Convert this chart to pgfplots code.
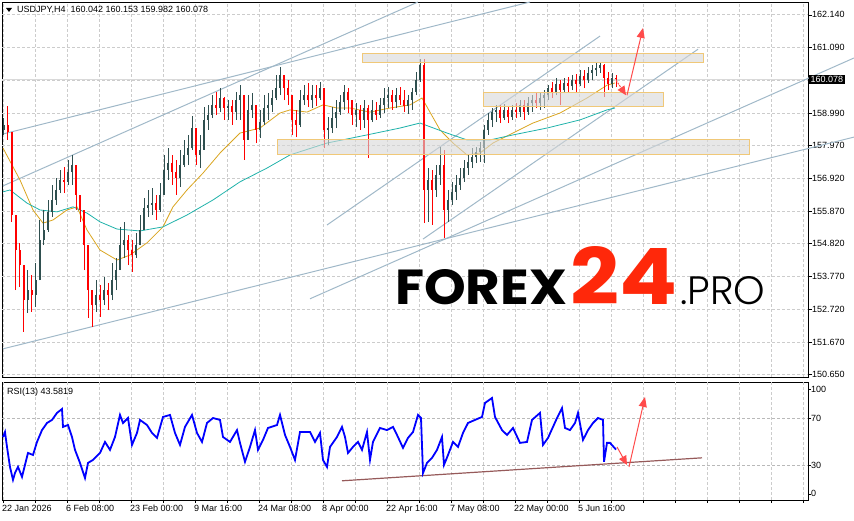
\documentclass[border=0pt]{standalone}
\usepackage{pgfplots}
\pgfplotsset{compat=1.18}
\usepackage{pgfplotstable}
\usepackage{graphicx}
\usepackage{fontspec}
\setmainfont{Liberation Sans}
\newfontfamily\wmfont{Poppins}
\IfFontExistsTF{Poppins Light}{\newfontfamily\wmlight{Poppins Light}}{\let\wmlight\wmfont}
\usetikzlibrary{arrows.meta}

\definecolor{bull}{RGB}{47,79,79}
\definecolor{bear}{RGB}{255,0,0}
\definecolor{maor}{RGB}{218,165,32}
\definecolor{mateal}{RGB}{32,178,170}
\definecolor{chan}{RGB}{160,184,200}
\definecolor{zonefill}{RGB}{215,215,215}
\definecolor{zoneedge}{RGB}{240,200,120}
\definecolor{arrowred}{RGB}{255,75,75}
\definecolor{rsiblue}{RGB}{0,0,255}
\definecolor{rsitrend}{RGB}{150,90,90}
\definecolor{brand}{RGB}{255,40,10}

\pgfplotsset{
  every tick label/.append style={font=\fontsize{9}{10}\selectfont},
}

% rising H4 candles: x (bar position), high, low, open, close
\pgfplotstableread{
x h l o c
4 158.84 158.30 158.46 158.62
28 153.98 152.61 153.02 153.34
36 154.21 152.80 153.18 153.66
40 155.58 153.66 153.66 154.94
44 155.90 154.78 154.94 155.26
48 156.22 155.20 155.26 155.84
52 156.70 155.68 155.84 156.22
56 156.92 156.06 156.22 156.54
60 157.18 156.44 156.54 156.86
68 157.50 156.70 156.80 157.11
72 157.66 156.70 157.11 157.34
96 153.66 152.64 152.86 153.18
104 153.76 152.86 153.02 153.34
112 154.21 153.02 153.18 153.66
116 154.37 153.34 153.66 153.98
120 155.36 153.98 153.98 154.78
124 155.52 154.37 154.78 154.94
136 155.17 154.37 154.46 154.78
140 155.74 154.78 154.78 155.26
144 156.28 155.26 155.26 155.96
148 156.54 155.68 155.96 156.06
152 156.60 155.74 156.06 156.12
160 156.76 155.84 155.90 156.38
164 157.66 156.38 156.38 157.18
168 157.88 156.86 157.18 157.40
180 157.82 156.64 156.92 157.34
184 158.14 157.27 157.34 157.66
188 158.30 157.34 157.66 157.88
192 158.90 157.82 157.88 158.52
200 158.30 157.24 157.66 157.82
204 159.19 157.82 157.82 158.78
208 159.26 158.46 158.78 158.94
212 159.57 158.84 158.94 159.26
220 159.80 159.03 159.16 159.48
228 159.41 158.78 159.16 159.22
236 159.67 158.78 159.03 159.41
240 159.89 158.78 159.41 159.57
248 159.57 158.14 158.14 159.10
252 159.64 158.84 159.10 159.26
260 159.10 158.20 158.46 158.71
264 159.57 158.62 158.71 159.16
268 159.64 158.78 159.16 159.26
272 159.73 159.03 159.26 159.48
276 160.21 159.41 159.48 159.80
280 160.47 159.57 159.80 160.21
300 159.73 158.55 158.62 159.41
304 159.89 159.26 159.41 159.57
312 159.89 159.16 159.41 159.57
320 159.99 159.41 159.48 159.80
328 158.87 157.98 158.46 158.52
332 159.19 158.36 158.52 158.84
336 159.41 158.52 158.84 159.03
340 159.57 158.94 159.03 159.35
344 159.89 159.10 159.35 159.67
356 159.32 158.55 158.94 159.10
364 159.41 158.52 158.78 159.16
372 159.41 158.71 158.78 159.10
380 159.48 158.84 158.94 159.26
384 159.80 159.00 159.26 159.48
388 159.83 159.16 159.48 159.57
396 159.80 159.16 159.35 159.57
408 159.57 158.97 159.22 159.41
412 159.80 159.10 159.41 159.67
416 160.31 159.57 159.67 160.05
420 160.72 159.99 160.05 160.53
428 157.24 155.52 156.54 156.86
436 157.34 156.32 156.54 157.02
440 157.91 156.70 157.02 157.34
448 156.54 155.52 155.90 156.22
452 156.80 156.06 156.22 156.48
456 157.02 156.22 156.48 156.70
460 157.24 156.54 156.70 156.92
464 157.50 156.80 156.92 157.24
468 157.66 157.02 157.24 157.43
472 157.88 157.24 157.43 157.59
476 157.91 157.40 157.59 157.75
480 158.07 157.43 157.75 157.88
484 158.62 157.40 157.88 158.46
488 159.00 158.30 158.46 158.78
492 159.16 158.55 158.78 159.03
496 159.26 158.71 159.03 159.10
504 159.29 158.78 158.84 159.10
512 159.26 158.78 158.87 159.10
520 159.41 158.87 159.03 159.26
528 159.51 158.94 159.03 159.32
532 159.57 159.03 159.32 159.41
540 159.67 159.10 159.32 159.48
544 159.73 159.16 159.48 159.57
548 159.89 159.41 159.57 159.80
556 160.12 159.57 159.67 159.93
564 160.12 159.64 159.73 159.96
572 160.21 159.73 159.86 160.05
580 160.37 159.86 159.93 160.18
588 160.47 159.96 160.05 160.28
592 160.53 160.05 160.28 160.37
596 160.60 160.18 160.37 160.44
600 160.60 160.28 160.44 160.53
612 160.28 159.80 159.93 160.12
}\upbars

% falling H4 candles
\pgfplotstableread{
x h l o c
8 159.22 158.14 158.62 158.39
12 158.39 155.52 158.39 155.74
16 155.74 153.34 155.74 154.62
20 154.85 153.44 154.62 154.14
24 154.14 152.00 154.14 153.02
32 153.82 152.64 153.34 153.18
64 157.27 156.44 156.86 156.80
76 157.34 155.90 157.34 156.38
80 156.38 155.52 156.38 155.90
84 155.90 153.98 155.90 154.78
88 154.78 152.45 154.78 153.34
92 153.34 152.16 153.34 152.86
100 153.50 152.48 153.18 153.02
108 153.57 152.70 153.34 153.18
128 155.10 154.14 154.94 154.62
132 154.94 153.92 154.62 154.46
156 156.38 155.58 156.12 155.90
172 157.66 156.70 157.40 157.11
176 157.50 156.38 157.11 156.92
196 158.52 157.34 158.52 157.66
216 159.67 158.94 159.26 159.16
224 159.51 158.78 159.48 159.16
232 159.41 158.62 159.22 159.03
244 159.57 157.50 159.57 158.14
256 159.26 158.04 159.26 158.46
284 160.21 159.41 160.21 159.80
288 160.05 159.26 159.80 159.57
292 159.57 158.30 159.57 158.78
296 159.10 158.23 158.78 158.62
308 159.96 159.19 159.57 159.41
316 159.89 159.22 159.57 159.48
324 159.80 157.88 159.80 158.46
348 159.80 159.00 159.67 159.41
352 159.41 158.62 159.41 158.94
360 159.26 158.46 159.10 158.78
368 159.26 157.56 159.16 158.78
376 159.35 158.78 159.10 158.94
392 159.73 159.10 159.57 159.35
400 159.83 159.26 159.57 159.41
404 159.73 159.03 159.41 159.22
424 160.72 155.48 160.53 156.54
432 157.18 155.42 156.86 156.54
444 157.82 155.01 157.34 155.90
500 159.26 158.68 159.10 158.84
508 159.22 158.68 159.10 158.87
516 159.32 158.84 159.10 159.03
524 159.41 158.78 159.26 159.03
536 159.64 159.16 159.41 159.32
552 159.99 159.48 159.80 159.67
560 160.05 159.26 159.93 159.73
568 160.15 159.67 159.96 159.86
576 160.25 159.67 160.05 159.93
584 160.37 159.80 160.18 160.05
604 160.57 159.51 160.53 160.12
608 160.31 159.73 160.12 159.93
616 160.21 159.83 160.12 160.078
}\downbars

\pgfplotstableread{
x r
3 54.2
5 58.4
7 45.8
10 28.9
13 18.0
15 23.8
18 29.0
22 20.5
25 30.6
28 40.7
33 39.0
37 50.0
42 60.0
47 66.0
52 68.6
57 74.5
62 77.8
63 62.7
68 64.3
72 54.2
75 43.3
80 32.3
85 19.6
88 32.3
93 34.8
100 40.7
105 50.0
110 43.3
115 54.2
120 72.8
123 66.0
128 70.2
132 47.5
137 57.6
140 68.6
147 64.3
152 57.6
157 53.4
163 71.1
170 72.8
175 57.6
180 47.5
185 62.7
192 72.8
197 57.6
202 50.0
207 66.0
213 70.2
220 68.6
223 54.2
230 50.0
237 60.0
240 49.2
245 33.2
250 45.8
255 60.0
258 43.3
263 51.7
268 61.8
277 64.3
280 72.8
285 55.9
290 45.8
295 34.8
300 58.4
310 58.4
315 50.0
320 57.6
323 34.8
327 28.9
330 45.8
337 54.2
342 62.7
345 54.2
348 40.7
353 45.8
358 50.0
362 43.3
367 58.4
370 34.8
373 50.0
380 61.8
387 60.0
393 62.7
397 55.9
403 45.0
408 53.4
413 58.4
418 72.8
421 70.2
423 23.8
427 32.3
432 36.5
437 43.3
442 54.2
444 30.6
448 39.0
453 50.0
458 45.8
463 57.6
468 66.0
475 68.6
482 71.1
485 82.9
492 87.1
495 71.1
502 60.0
507 55.9
513 61.8
520 49.2
527 50.0
532 68.6
540 74.5
543 47.5
548 53.4
553 62.7
557 70.2
562 78.6
565 61.8
570 60.0
575 66.0
578 74.5
583 51.7
588 60.0
593 66.0
598 70.2
603 68.6
604 33.2
607 49.2
610 49.2
616 43.58
}\rsi

\begin{document}
\begin{tikzpicture}
\useasboundingbox (0,0) rectangle (854pt,521pt);

\begin{axis}[
  at={(2pt,144pt)}, anchor=south west, scale only axis,
  width=806pt, height=375pt,
  xmin=2, xmax=808, ymin=150.56, ymax=162.55,
  axis line style={line width=0.8pt},
  xtick=\empty,
  ytick={150.65,151.67,152.72,153.77,154.82,155.87,156.92,157.97,158.99,160.04,161.09,162.14},
  yticklabels={150.650,151.670,152.720,153.770,154.820,155.870,156.920,157.970,158.990,,161.090,162.140},
  ytick pos=right, yticklabel pos=right, tick align=outside, major tick length=4pt,
  ytick style={black, line width=0.6pt},
  yticklabel style={anchor=west, inner sep=0pt},
  clip=false,
]
% chart grid
\pgfplotsinvokeforeach{3.5,35.5,67.5,99.5,131.5,163.5,195.5,227.5,259.5,291.5,323.5,355.5,387.5,419.5,451.5,483.5,515.5,547.5,579.5,611.5,643.5,675.5,707.5,739.5,771.5,803.5}{
  \addplot[gray!40, dash pattern=on 3pt off 2pt, line width=0.8pt, forget plot] coordinates {(#1,150.56) (#1,162.55)};}
\pgfplotsinvokeforeach{150.65,151.67,152.72,153.77,154.82,155.87,156.92,157.97,158.99,160.04,161.09,162.14}{
  \addplot[gray!40, dash pattern=on 3pt off 2pt, line width=0.8pt, forget plot] coordinates {(2,#1) (808,#1)};}
% bid line
\addplot[gray!30, line width=1pt] coordinates {(2,160.078) (808,160.078)};
% channel lines
\addplot[chan, line width=1pt] coordinates {(3,158.33) (530,162.55)};
\addplot[chan, line width=1pt] coordinates {(3,156.67) (418,162.55)};
\addplot[chan, line width=1pt] coordinates {(3,151.46) (854,158.23)};
\addplot[chan, line width=1pt] coordinates {(310,153.06) (854,160.76)};
\addplot[chan, line width=1pt] coordinates {(327,155.42) (600,161.46)};
\addplot[chan, line width=1pt] coordinates {(423,154.97) (698,161.04)};
% moving averages
\addplot[maor, line width=0.8pt] coordinates {
(3,157.88) (20,156.86) (33,155.90) (43,155.48) (53,155.58) (67,155.90) (77,156.00)
(87,155.26) (100,154.62) (117,154.30) (130,154.46) (147,154.85) (163,155.36)
(173,156.00) (187,156.54) (203,157.08) (220,157.72) (240,158.36) (260,158.52)
(280,159.00) (290,159.10) (307,159.03) (323,159.26) (337,159.16) (350,159.16)
(370,159.03) (390,159.16) (410,159.26) (422,159.48) (440,158.46) (453,158.04)
(467,157.66) (480,157.72) (493,158.04) (513,158.36) (533,158.68) (560,159.00)
(587,159.48) (607,159.89) (615,159.96)};
\addplot[mateal, line width=0.8pt] coordinates {
(3,156.48) (10,156.54) (27,156.12) (40,155.90) (57,155.84) (73,156.00) (87,155.80)
(100,155.52) (117,155.29) (140,155.23) (163,155.36) (187,155.74) (213,156.22)
(240,156.80) (267,157.24) (290,157.66) (327,158.04) (367,158.30) (400,158.52)
(420,158.68) (447,158.36) (467,158.14) (490,158.14) (513,158.30) (547,158.52)
(580,158.78) (607,159.10) (615,159.16)};
% rising candles
\addplot[bull, line width=1pt, mark=none, forget plot,
  quiver={u value=0, v=\thisrow{h}-\thisrow{l}}] table[x=x, y=l] {\upbars};
\addplot[bull, line width=2.6pt, mark=none, forget plot,
  quiver={u value=0, v=\thisrow{c}-\thisrow{o}}] table[x=x, y=o] {\upbars};
% falling candles
\addplot[bear, line width=1pt, mark=none, forget plot,
  quiver={u value=0, v=\thisrow{h}-\thisrow{l}}] table[x=x, y=l] {\downbars};
\addplot[bear, line width=2.6pt, mark=none, forget plot,
  quiver={u value=0, v=\thisrow{o}-\thisrow{c}}] table[x=x, y=c] {\downbars};
% zones
\addplot[fill=zonefill, fill opacity=0.6, draw=zoneedge, line width=0.9pt]
  coordinates {(362,160.92) (703,160.92) (703,160.63) (362,160.63)} -- cycle;
\addplot[fill=zonefill, fill opacity=0.6, draw=zoneedge, line width=0.9pt]
  coordinates {(483,159.67) (663,159.67) (663,159.22) (483,159.22)} -- cycle;
\addplot[fill=zonefill, fill opacity=0.6, draw=zoneedge, line width=0.9pt]
  coordinates {(277,158.17) (749,158.17) (749,157.66) (277,157.66)} -- cycle;
% forecast arrows
\addplot[arrowred, line width=1pt, dash pattern=on 2pt off 1pt, -{Triangle[length=9pt,width=8pt]}]
  coordinates {(616,160.05) (626,159.57)};
\addplot[arrowred, line width=1pt, -{Triangle[length=10pt,width=8pt]}]
  coordinates {(627,159.57) (643,161.72)};
\node[fill=black, text=white, inner sep=1.5pt, anchor=west, font=\fontsize{9}{10}\selectfont]
  at (axis cs:809,160.078) {160.078};
\end{axis}

\begin{axis}[
  at={(2pt,21pt)}, anchor=south west, scale only axis,
  width=806pt, height=118pt,
  xmin=2, xmax=808, ymin=1, ymax=100.6,
  axis line style={line width=0.8pt},
  xtick={3,35,...,803},
  xticklabels={22 Jan 2026,,6 Feb 08:00,,23 Feb 00:00,,9 Mar 16:00,,24 Mar 08:00,,8 Apr 00:00,,22 Apr 16:00,,7 May 08:00,,22 May 00:00,,5 Jun 16:00,,,,,,,},
  xtick pos=bottom, xticklabel style={anchor=north west, inner sep=0pt, yshift=-2pt, xshift=-1pt},
  ytick={6.2,30,70,94.7}, yticklabels={0,30,70,100},
  ytick pos=right, yticklabel pos=right, tick align=outside, major tick length=3pt,
  tick style={black, line width=0.6pt},
  yticklabel style={anchor=west, inner sep=0pt},
  clip=false,
]
\pgfplotsinvokeforeach{3.5,35.5,67.5,99.5,131.5,163.5,195.5,227.5,259.5,291.5,323.5,355.5,387.5,419.5,451.5,483.5,515.5,547.5,579.5,611.5,643.5,675.5,707.5,739.5,771.5,803.5}{
  \addplot[gray!40, dash pattern=on 3pt off 2pt, line width=0.8pt, forget plot] coordinates {(#1,1) (#1,100.6)};}
\addplot[gray!55, dash pattern=on 3pt off 2pt, line width=0.8pt] coordinates {(2,70) (808,70)};
\addplot[gray!55, dash pattern=on 3pt off 2pt, line width=0.8pt] coordinates {(2,30) (808,30)};
\addplot[rsitrend, line width=1.2pt] coordinates {(342,17.2) (702,36.6)};
\addplot[rsiblue, line width=1.8pt] table[x=x, y=r] {\rsi};
\addplot[arrowred, line width=1pt, -{Triangle[length=9pt,width=8pt]}]
  coordinates {(617,45.8) (627,30.6)};
\addplot[arrowred, line width=1pt, -{Triangle[length=10pt,width=8pt]}]
  coordinates {(629,28.9) (645,88)};
\end{axis}

% captions
\fill (6pt,513pt) -- (12pt,513pt) -- (9pt,509pt) -- cycle;
\node[anchor=west, inner sep=0pt, font=\fontsize{9}{10}\selectfont] at (17pt,511pt)
  {USDJPY,H4\ \ 160.042 160.153 159.982 160.078};
\node[anchor=west, inner sep=0pt, font=\fontsize{9}{10}\selectfont] at (7pt,129pt)
  {RSI(13) 43.5819};

% watermark
\node[anchor=base west, inner sep=0pt] at (395pt,216pt)
  {\resizebox{172pt}{35pt}{\wmfont\bfseries FOREX}};
\node[anchor=base west, inner sep=0pt, text=brand] at (570pt,216pt)
  {\resizebox{107pt}{58pt}{\wmfont\bfseries 24}};
\node[anchor=base west, inner sep=0pt] at (680pt,216pt)
  {\resizebox{85pt}{28pt}{\wmlight .PRO}};
\end{tikzpicture}
\end{document}
